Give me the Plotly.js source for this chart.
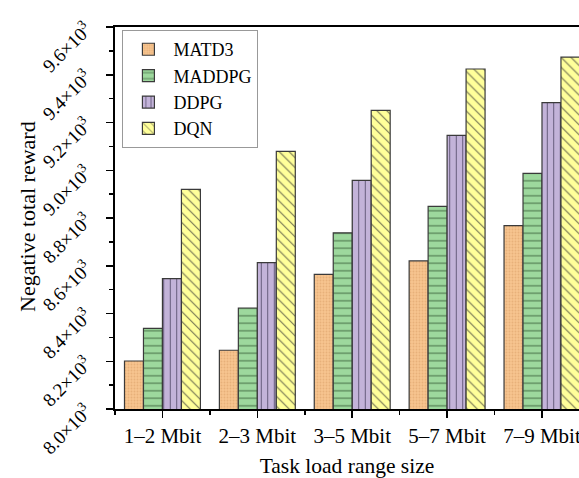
<!DOCTYPE html>
<html>
<head>
<meta charset="utf-8">
<script src="https://cdn.plot.ly/plotly-3.0.1.min.js"></script>
<style>html,body{margin:0;padding:0;background:#fff}#chart{width:579px;height:478px}</style>
</head>
<body>
<div id="chart"></div>
<script>
const categories = ["1\u20132 Mbit", "2\u20133 Mbit", "3\u20135 Mbit", "5\u20137 Mbit", "7\u20139 Mbit"];
const catIndex = [0, 1, 2, 3, 4];
const MATD3 = [8201, 8246, 8564, 8620, 8768];
const MADDPG = [8338, 8423, 8738, 8849, 8987];
const DDPG = [8546, 8613, 8958, 9146, 9283];
const DQN = [8920, 9079, 9251, 9424, 9474];
const yTickVals = [8000, 8200, 8400, 8600, 8800, 9000, 9200, 9400, 9600];
const yTickText = ["8.0\u00d710<sup>3</sup>", "8.2\u00d710<sup>3</sup>", "8.4\u00d710<sup>3</sup>", "8.6\u00d710<sup>3</sup>", "8.8\u00d710<sup>3</sup>", "9.0\u00d710<sup>3</sup>", "9.2\u00d710<sup>3</sup>", "9.4\u00d710<sup>3</sup>", "9.6\u00d710<sup>3</sup>"];
const yTitle = "Negative total reward";
const xTitle = "Task load range size";

const font = "Liberation Serif, Times New Roman, serif";
function bar(name, y, bg, fg, shape, size, sol) {
  return {
    type: "bar", name: name, x: catIndex, y: y,
    marker: {
      color: bg,
      line: {color: "#3a3a3a", width: 1.2},
      pattern: {shape: shape, bgcolor: bg, fgcolor: fg, size: size, solidity: sol, fillmode: "replace"}
    }
  };
}
const data = [
  bar("MATD3", MATD3, "#F7C58F", "#E8B07A", ".", 3, 0.3),
  bar("MADDPG", MADDPG, "#9DD89D", "#4F7A4F", "-", 7.5, 0.15),
  bar("DDPG", DDPG, "#C3B3D9", "#5E5474", "|", 6.5, 0.15),
  bar("DQN", DQN, "#FFFF9A", "#6E6E50", "\\", 7, 0.15)
];
const layout = {
  width: 579, height: 478,
  margin: {l: 115, r: 0, t: 27, b: 69},
  paper_bgcolor: "#fff", plot_bgcolor: "#fff",
  barmode: "group", bargap: 0.2, bargroupgap: 0,
  font: {family: font, color: "#000", size: 19},
  showlegend: true,
  legend: {
    x: 0.016, y: 0.992, xanchor: "left", yanchor: "top",
    bgcolor: "#fff", bordercolor: "#999", borderwidth: 1,
    font: {family: font, size: 18}, itemwidth: 40, tracegroupgap: 0
  },
  annotations: [{
    text: yTitle, xref: "paper", yref: "paper", x: -0.19, y: 0.505,
    xanchor: "center", yanchor: "middle", textangle: -90, showarrow: false,
    font: {family: font, size: 22, color: "#000"}
  }],
  xaxis: {
    range: [-0.5, 4.39], tickmode: "array", tickvals: catIndex, ticktext: categories,
    ticklabeloverflow: "allow",
    showline: true, linecolor: "#000", linewidth: 2, mirror: true,
    ticks: "outside", ticklen: 7, tickwidth: 1.5, tickcolor: "#000",
    minor: {tick0: 0.5, dtick: 1, ticks: "outside", ticklen: 4, tickwidth: 1.5, tickcolor: "#000"},
    showgrid: false, zeroline: false,
    tickfont: {family: font, size: 21},
    title: {text: xTitle, font: {family: font, size: 21.5}, standoff: 16}
  },
  yaxis: {
    range: [8000, 9600], tickmode: "array", tickvals: yTickVals, ticktext: yTickText,
    tickangle: -45, ticklabelstandoff: 16,
    showline: true, linecolor: "#000", linewidth: 2, mirror: false,
    ticks: "outside", ticklen: 7, tickwidth: 1.5, tickcolor: "#000",
    minor: {tick0: 8100, dtick: 200, ticks: "outside", ticklen: 4, tickwidth: 1.5, tickcolor: "#000"},
    showgrid: false, zeroline: false,
    tickfont: {family: font, size: 19}
  }
};
Plotly.newPlot("chart", data, layout, {displayModeBar: false, staticPlot: true});
</script>
</body>
</html>
